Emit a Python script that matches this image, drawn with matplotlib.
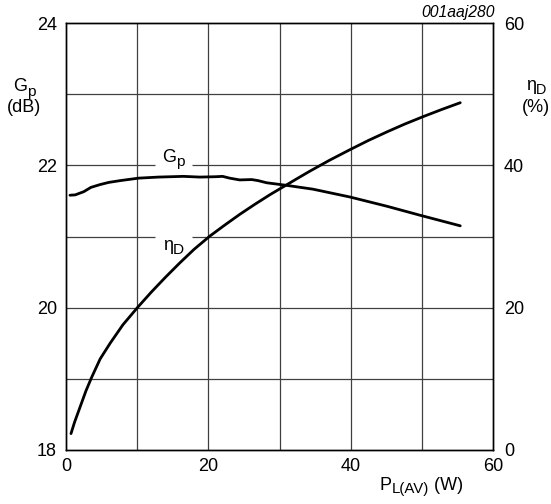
import numpy as np
import matplotlib
matplotlib.use('Agg')
import matplotlib.pyplot as plt
from matplotlib.transforms import IdentityTransform

plt.rcParams['font.family'] = ['Liberation Sans', 'DejaVu Sans']

# Gp (dB) x PL(AV) (W)
pl_gp = [0.56, 1.3, 2.5, 3.5, 4.8, 6.0, 7.6, 10.2, 13.0, 16.5, 18.8, 21.0, 22.0,
         23.0, 24.4, 26.1, 27.0, 28.2, 30.9, 34.7, 39.9, 45.1, 49.7, 55.4]
gp = [21.58, 21.585, 21.63, 21.69, 21.73, 21.76, 21.785, 21.82, 21.835, 21.845,
      21.835, 21.84, 21.845, 21.82, 21.795, 21.80, 21.785, 21.755, 21.72, 21.665,
      21.555, 21.425, 21.30, 21.15]

# eta_D (%) x PL(AV) (W)
pl_eta = [0.7, 1.2, 2.0, 2.8, 3.6, 4.8, 6.2, 8.0, 10.07, 12.0, 14.0, 16.0, 18.0,
          20.2, 22.3, 24.4, 26.5, 28.7, 30.9, 32.5, 34.3, 37.0, 39.9, 42.5, 45.1,
          47.6, 50.2, 52.8, 55.4]
eta = [2.3, 3.9, 6.1, 8.3, 10.2, 12.8, 15.0, 17.6, 20.05, 22.2, 24.3, 26.3, 28.2,
       30.05, 31.6, 33.1, 34.5, 35.9, 37.2, 38.15, 39.2, 40.7, 42.2, 43.5, 44.7,
       45.8, 46.85, 47.85, 48.8]

FONTE = 13
COR_GRADE = '#404040'
LARGURA, ALTURA = 551, 504

fig = plt.figure(figsize=(LARGURA / 100, ALTURA / 100), dpi=100)
ax = fig.add_axes([66 / LARGURA, 54 / ALTURA, 427 / LARGURA, 427 / ALTURA])
ax2 = ax.twinx()

ax.set_xlim(0, 60)
ax.set_ylim(18, 24)
ax2.set_ylim(0, 60)

# grade (com falhas onde ficam os rótulos das curvas)
for xv in range(10, 60, 10):
    ax.axvline(xv, color=COR_GRADE, linewidth=0.9, zorder=1)
for yv in range(19, 24):
    if yv in (21, 22):
        ax.hlines([yv, yv], [0, 17.7], [12.5, 60], color=COR_GRADE, linewidth=0.9, zorder=1)
    else:
        ax.axhline(yv, color=COR_GRADE, linewidth=0.9, zorder=1)

ax.plot(pl_gp, gp, color='black', linewidth=2.0, solid_capstyle='round',
        solid_joinstyle='round', zorder=3)
ax2.plot(pl_eta, eta, color='black', linewidth=2.0, solid_capstyle='round',
         solid_joinstyle='round', zorder=3)

ax.set_xticks([0, 20, 40, 60])
ax.set_yticks([18, 20, 22, 24])
ax2.set_yticks([0, 20, 40, 60])
ax.tick_params(axis='x', length=0, labelsize=FONTE, pad=6)
ax.tick_params(axis='y', length=0, labelsize=FONTE, pad=6.5)
ax2.tick_params(axis='y', length=0, labelsize=FONTE, pad=8)
for a in (ax, ax2):
    for s in a.spines.values():
        s.set_linewidth(1.0)

fig.canvas.draw()
ren = fig.canvas.get_renderer()


def texto_sub(xc, y_base, base, sub, resto='', tam=FONTE, fator=0.85, desl=3):
    """Texto com subscrito em coordenadas de pixel (y a partir do topo)."""
    pecas = [(base, tam, 0), (sub, tam * fator, desl)]
    if resto:
        pecas.append((resto, tam, 0))
    objs = []
    larg = 0
    for txt, t, d in pecas:
        o = fig.text(0, 0, txt, fontsize=t, ha='left', va='baseline',
                     transform=IdentityTransform(), zorder=5)
        w = o.get_window_extent(ren).width
        objs.append((o, w, d))
        larg += w
    x = xc - larg / 2
    for o, w, d in objs:
        o.set_position((x, ALTURA - y_base - d))
        x += w


# rótulos das curvas
texto_sub(173.5, 162.3, 'G', 'p', desl=4)
texto_sub(173.5, 250.5, 'η', 'D', desl=3)

# rótulos dos eixos
texto_sub(24.5, 90.7, 'G', 'p', desl=5)
fig.text(24.5, ALTURA - 111.5, '(dB)', fontsize=FONTE, ha='center', va='baseline',
         transform=IdentityTransform())
texto_sub(536, 89.5, 'η', 'D', fator=0.8, desl=4)
fig.text(536, ALTURA - 111.5, '(%)', fontsize=FONTE, ha='center', va='baseline',
         transform=IdentityTransform())
texto_sub(421.5, 490, 'P', 'L(AV)', ' (W)', fator=0.83, desl=3)

fig.text(495, ALTURA - 16.7, '001aaj280', fontsize=11.3, style='italic',
         ha='right', va='baseline', transform=IdentityTransform())

fig.savefig('out.png', dpi=100)
